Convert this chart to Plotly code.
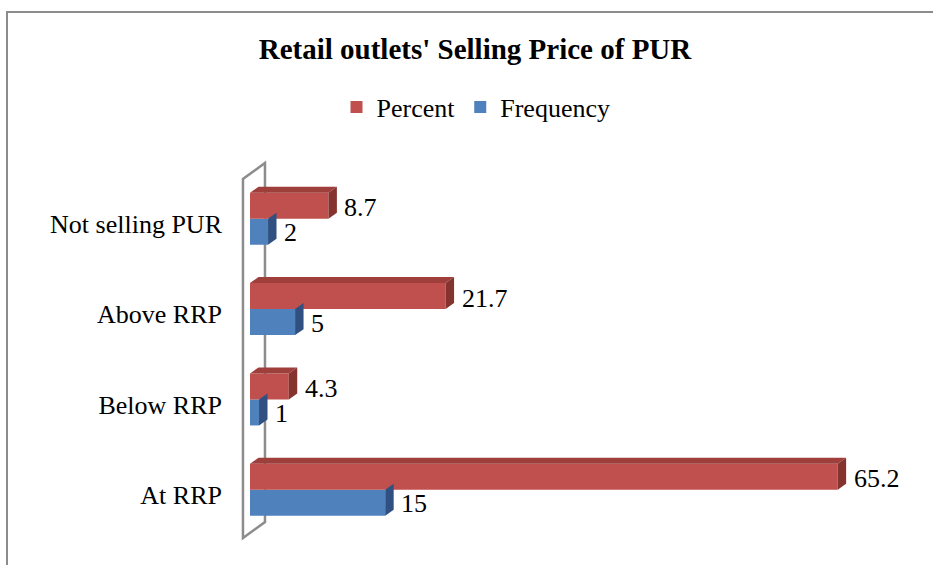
import plotly.graph_objects as go

# ---- data ----
categories = ["At RRP", "Below RRP", "Above RRP", "Not selling PUR"]
percent = [65.2, 4.3, 21.7, 8.7]
frequency = [15, 1, 5, 2]
series_names = ["Percent", "Frequency"]
title_text = "Retail outlets' Selling Price of PUR"

# ---- style ----
RED, RED_TOP, RED_SIDE = "#C0504D", "#9E3F3C", "#85332F"
BLUE, BLUE_SIDE = "#4F81BD", "#2F5081"
FONT = "Liberation Serif, Times New Roman, serif"
W = 0.288          # bar thickness (y units)
DX = 0.94          # 3D depth offset (x units)
DY = 0.066         # 3D depth offset (y units)

ypos = list(range(len(categories)))

fig = go.Figure()
fig.add_trace(go.Bar(
    y=ypos, x=frequency, orientation="h", name=series_names[1],
    marker=dict(color=BLUE, line=dict(width=0)), width=W, offset=-W,
    legendrank=2, hoverinfo="x+name"))
fig.add_trace(go.Bar(
    y=ypos, x=percent, orientation="h", name=series_names[0],
    marker=dict(color=RED, line=dict(width=0)), width=W, offset=0,
    legendrank=1, hoverinfo="x+name"))

shapes = []
# axis wall (drawn behind the bars)
wx0, wdx, wdy = -0.78, 2.44, 0.177
wy0, wy1 = -0.534, 3.44
wall_path = (f"M{wx0},{wy0} L{wx0},{wy1} L{wx0+wdx},{wy1+wdy} "
             f"L{wx0+wdx},{wy0+wdy} Z")
shapes.append(dict(type="path", xref="x", yref="y", path=wall_path,
                   line=dict(color="#8C8C8C", width=2.5), layer="below"))

def poly(pts):
    return "M" + " L".join(f"{a},{b}" for a, b in pts) + " Z"

for i, (p, f) in enumerate(zip(percent, frequency)):
    # percent bar: top and side faces
    top = [(0, i + W), (p, i + W), (p + DX, i + W + DY), (DX, i + W + DY)]
    side = [(p, i), (p, i + W), (p + DX, i + W + DY), (p + DX, i + DY)]
    shapes.append(dict(type="path", xref="x", yref="y", path=poly(top),
                       fillcolor=RED_TOP, line=dict(width=0), layer="above"))
    shapes.append(dict(type="path", xref="x", yref="y", path=poly(side),
                       fillcolor=RED_SIDE, line=dict(width=0), layer="above"))
    # frequency bar: side face
    bside = [(f, i - W), (f, i), (f + DX, i + DY), (f + DX, i - W + DY)]
    shapes.append(dict(type="path", xref="x", yref="y", path=poly(bside),
                       fillcolor=BLUE_SIDE, line=dict(width=0), layer="above"))

# chart border (only top and left edges are inside the picture)
L, T, PW, PH = 241, 160, 685, 384
def px2x(px): return (px - L) / PW
def py2y(py): return (T + PH - py) / PH
shapes.append(dict(type="rect", xref="paper", yref="paper",
                   x0=px2x(7), x1=px2x(960), y0=py2y(600), y1=py2y(12),
                   line=dict(color="#8C8C8C", width=2), layer="below"))

annotations = []
for i, (p, f) in enumerate(zip(percent, frequency)):
    annotations.append(dict(x=p, y=i + W / 2, xref="x", yref="y", text=f"{p:g}",
                            showarrow=False, xanchor="left", yanchor="middle",
                            xshift=14, yshift=-2,
                            font=dict(family=FONT, size=26, color="#000")))
    annotations.append(dict(x=f, y=i - W / 2, xref="x", yref="y", text=f"{f:g}",
                            showarrow=False, xanchor="left", yanchor="middle",
                            xshift=14, yshift=-1,
                            font=dict(family=FONT, size=26, color="#000")))

fig.update_layout(
    width=933, height=565,
    margin=dict(l=L, r=933 - L - PW, t=T, b=565 - T - PH, pad=0),
    paper_bgcolor="white", plot_bgcolor="white",
    barmode="overlay",
    showlegend=True,
    title=dict(text=f"<b>{title_text}</b>", x=px2x(475), xref="paper",
               y=1 - 49 / 565, yref="container", xanchor="center", yanchor="middle",
               font=dict(family=FONT, size=29, color="#000")),
    legend=dict(orientation="h", x=px2x(476), y=py2y(107), xanchor="center",
                yanchor="middle", font=dict(family=FONT, size=26, color="#000"),
                bgcolor="rgba(0,0,0,0)", itemwidth=30),
    xaxis=dict(range=[-1, 75], visible=False, fixedrange=True),
    yaxis=dict(range=[-0.6, 3.65], tickvals=ypos, ticktext=categories,
               showgrid=False, zeroline=False, showline=False, ticks="",
               ticklabelshift=5, ticklabelstandoff=18,
               tickfont=dict(family=FONT, size=26, color="#000"), fixedrange=True),
    shapes=shapes,
    annotations=annotations,
)

fig.write_html("out.html", config={"displayModeBar": False},
               post_script="document.body.style.margin='0';document.body.style.overflow='hidden';")
